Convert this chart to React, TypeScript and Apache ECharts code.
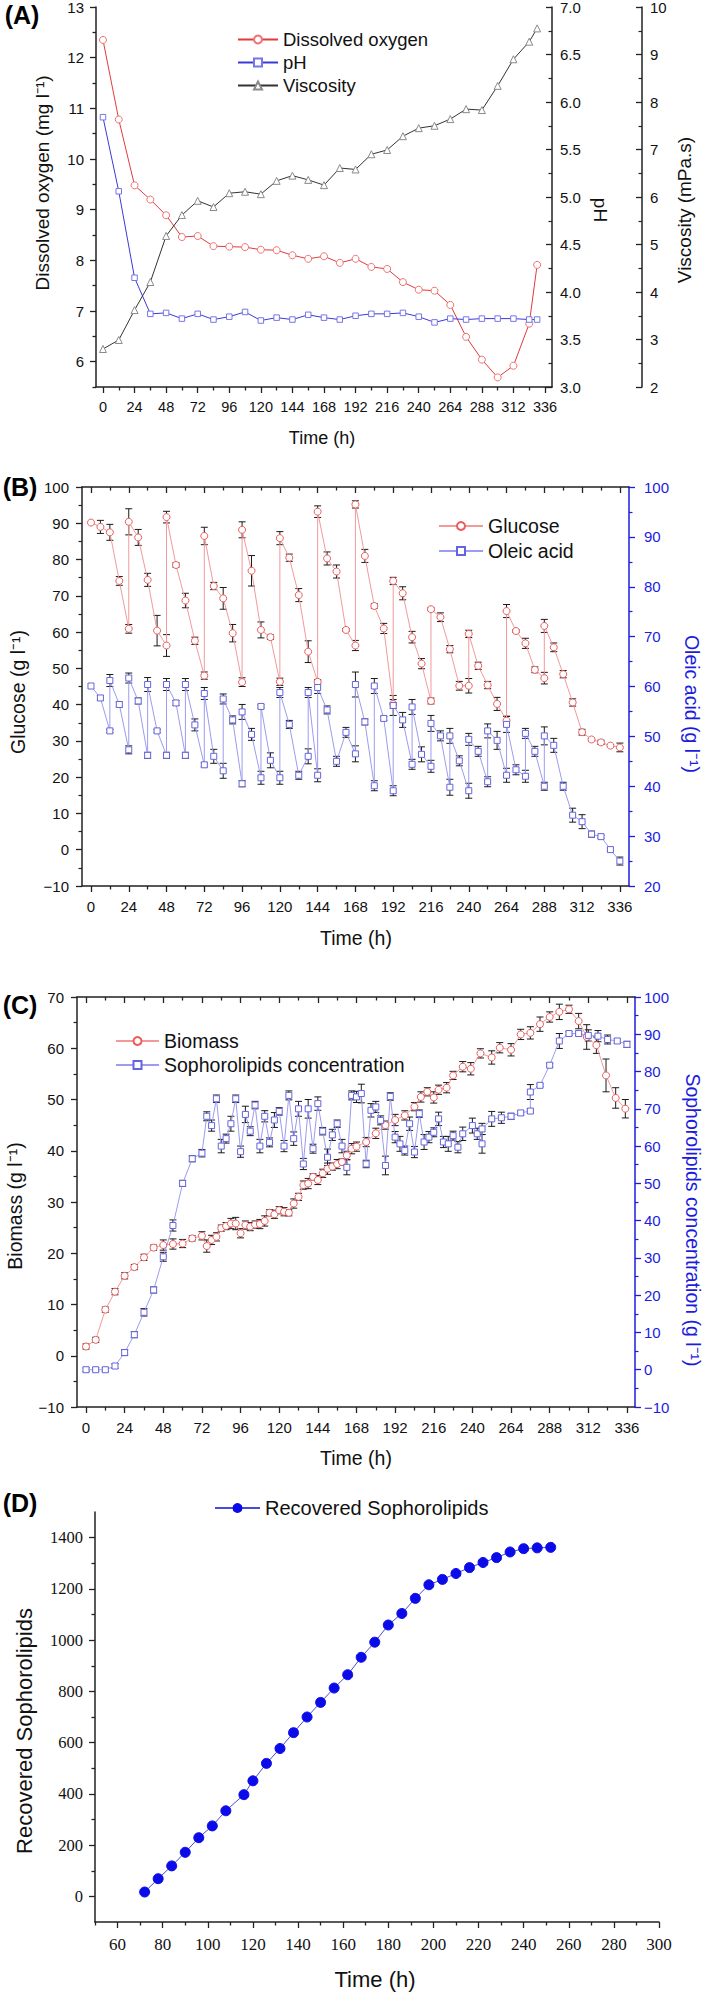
import React, { useEffect, useRef } from 'react';
import * as echarts from 'echarts';

const FONT = '"Liberation Sans", Arial, Helvetica, sans-serif';
const SERIF = '"Liberation Serif", "Times New Roman", serif';
const AXC = '#222222';
const BLUE = '#1c1ce0';

// ---------- shared tick labels (hours)
const H_TICKS = [0, 24, 48, 72, 96, 120, 144, 168, 192, 216, 240, 264, 288, 312, 336];
const H_MINOR = [12, 36, 60, 84, 108, 132, 156, 180, 204, 228, 252, 276, 300, 324];

// ---------- Panel A
const A_TIME = [0, 12, 24, 36, 48, 60, 72, 84, 96, 108, 120, 132, 144, 156, 168, 180, 192, 204, 216, 228, 240, 252, 264, 276, 288, 300, 312, 324, 330];
const A_DO = [12.35, 10.78, 9.48, 9.2, 8.89, 8.46, 8.48, 8.28, 8.27, 8.26, 8.21, 8.2, 8.1, 8.03, 8.08, 7.95, 8.03, 7.87, 7.83, 7.57, 7.42, 7.4, 7.12, 6.49, 6.04, 5.69, 5.92, 6.75, 7.91];
const A_PH = [5.84, 5.06, 4.15, 3.77, 3.78, 3.72, 3.77, 3.71, 3.74, 3.79, 3.7, 3.73, 3.71, 3.76, 3.73, 3.71, 3.75, 3.77, 3.77, 3.78, 3.74, 3.68, 3.72, 3.71, 3.72, 3.72, 3.72, 3.71, 3.71];
const A_VISC = [2.8, 2.99, 3.62, 4.21, 5.18, 5.62, 5.92, 5.79, 6.08, 6.11, 6.06, 6.34, 6.45, 6.36, 6.25, 6.61, 6.58, 6.9, 6.99, 7.28, 7.45, 7.5, 7.64, 7.85, 7.83, 8.34, 8.9, 9.27, 9.55];
const A_LEFT_TICKS = [6, 7, 8, 9, 10, 11, 12, 13];
const A_LEFT_MINOR = [5.5, 6.5, 7.5, 8.5, 9.5, 10.5, 11.5, 12.5];

// ---------- Panel B
const B_GLU_T = [0, 6, 12, 18, 24, 24, 30, 36, 42, 48, 48, 54, 60, 66, 72, 72, 78, 84, 90, 96, 96, 102, 108, 114, 120, 120, 126, 132, 138, 144, 144, 150, 156, 162, 168, 168, 174, 180, 186, 192, 192, 198, 204, 210, 216, 216, 222, 228, 234, 240, 240, 246, 252, 258, 264, 264, 270, 276, 282, 288, 288, 294, 300, 306, 312, 318, 324, 330, 336];
const B_GLU = [90.2, 89.0, 87.5, 74.1, 60.9, 90.4, 86.1, 74.4, 60.4, 56.3, 91.7, 78.5, 68.7, 57.6, 48.0, 86.5, 72.7, 69.3, 59.7, 46.2, 88.2, 76.9, 60.6, 58.6, 46.3, 85.9, 80.5, 70.2, 54.6, 46.3, 93.2, 80.3, 76.7, 60.6, 56.3, 95.2, 81.0, 67.2, 61.0, 40.2, 74.1, 70.7, 58.6, 51.3, 41.0, 66.3, 64.1, 55.3, 45.2, 45.2, 59.5, 50.7, 45.4, 40.2, 35.6, 65.8, 60.3, 56.9, 49.6, 47.3, 61.7, 55.8, 48.4, 40.6, 32.4, 30.4, 29.6, 28.7, 28.2];
const B_GLU_ERR = [0, 1.8, 2.2, 1.2, 1.2, 3.6, 2.2, 1.8, 4.2, 3.0, 1.6, 0.6, 2.0, 1.0, 1.0, 2.4, 1.0, 3.0, 2.4, 1.2, 2.2, 4.2, 2.2, 0.6, 1.0, 1.8, 1.0, 1.8, 3.0, 0.6, 1.6, 1.8, 1.8, 0.4, 1.4, 1.0, 1.8, 0.6, 1.4, 1.2, 1.0, 1.8, 1.6, 1.4, 0.8, 0.4, 1.2, 1.0, 1.2, 2.0, 1.0, 1.0, 1.0, 1.8, 1.2, 1.8, 0.4, 1.4, 0.8, 1.6, 1.8, 1.2, 1.0, 1.0, 0.8, 0.4, 0.6, 0.3, 1.2];
const B_OLE_T = [0, 6, 12, 12, 18, 24, 24, 30, 36, 36, 42, 48, 48, 54, 60, 60, 66, 72, 72, 78, 84, 84, 90, 96, 96, 102, 108, 108, 114, 120, 120, 126, 132, 138, 138, 144, 144, 150, 156, 162, 168, 168, 174, 180, 180, 186, 192, 192, 198, 204, 204, 210, 216, 216, 222, 228, 228, 234, 240, 240, 246, 252, 252, 258, 264, 264, 270, 276, 276, 282, 288, 288, 294, 300, 306, 312, 318, 324, 330, 336];
const B_OLE = [60.1, 57.7, 51.1, 61.2, 56.4, 47.3, 61.7, 57.1, 46.2, 60.4, 51.1, 46.2, 60.4, 56.7, 46.2, 60.4, 52.3, 44.3, 58.6, 46.0, 43.1, 57.5, 53.3, 40.5, 54.9, 50.4, 41.7, 56.0, 45.2, 41.7, 58.8, 52.4, 42.2, 46.0, 58.8, 42.2, 59.8, 55.3, 45.0, 50.8, 46.5, 60.4, 52.9, 40.1, 60.1, 53.6, 39.1, 56.2, 53.3, 44.4, 55.9, 46.4, 44.0, 52.6, 50.1, 39.8, 50.1, 45.1, 39.1, 49.4, 47.0, 40.9, 51.1, 49.2, 42.2, 52.4, 43.3, 42.0, 50.6, 47.0, 40.0, 50.1, 48.2, 40.0, 34.2, 32.9, 30.4, 29.9, 27.3, 25.0];
const B_OLE_ERR = [0, 0.5, 0.3, 1.2, 0.5, 0.8, 1.0, 0.6, 0.6, 1.4, 0.3, 0.6, 1.2, 0.5, 0.6, 1.2, 1.2, 0.4, 1.2, 1.4, 1.5, 1.0, 0.8, 0.6, 1.5, 1.2, 1.3, 0.3, 1.5, 1.3, 1.0, 0.8, 0.8, 1.5, 1.0, 1.3, 1.2, 0.8, 1.0, 1.0, 1.6, 2.5, 0.6, 1.0, 1.5, 0.4, 1.0, 2.0, 1.5, 1.0, 1.5, 1.5, 1.2, 1.6, 1.0, 1.6, 1.5, 1.0, 1.5, 1.2, 1.0, 1.0, 1.4, 1.8, 1.4, 1.6, 1.0, 1.2, 1.0, 1.0, 0.8, 1.8, 1.4, 0.8, 1.4, 1.4, 0.6, 0.3, 0.3, 0.8];

// ---------- Panel C
const C_BIO_T = [0, 6, 12, 18, 24, 30, 36, 42, 48, 54, 60, 66, 72, 75, 78, 81, 84, 87, 90, 93, 96, 99, 102, 105, 108, 111, 114, 117, 120, 123, 126, 129, 132, 135, 138, 141, 144, 147, 150, 153, 156, 159, 162, 165, 168, 174, 180, 186, 192, 198, 204, 208, 212, 216, 219, 224, 228, 234, 239, 245, 252, 257, 264, 270, 276, 282, 288, 294, 300, 306, 311, 317, 323, 329, 335];
const C_BIO = [1.8, 3.1, 9.0, 12.5, 15.6, 17.3, 19.2, 21.1, 21.6, 21.8, 21.9, 22.9, 23.4, 21.4, 22.6, 23.2, 24.9, 25.3, 25.8, 25.8, 23.9, 25.5, 25.2, 25.6, 25.7, 26.3, 27.9, 27.6, 28.4, 28.1, 27.9, 29.7, 31.0, 33.3, 33.6, 34.9, 34.3, 35.6, 36.5, 36.9, 37.4, 37.8, 39.1, 40.4, 40.8, 41.7, 43.4, 45.0, 46.0, 46.9, 48.6, 50.5, 51.5, 50.4, 51.9, 52.3, 54.7, 56.4, 56.0, 59.0, 58.2, 60.1, 59.7, 62.7, 63.0, 64.7, 66.1, 67.1, 67.6, 65.3, 62.2, 60.6, 54.7, 50.3, 48.2];
const C_BIO_ERR = [0.5, 0.5, 0.5, 0.6, 0.6, 0.5, 0.6, 0.5, 1.0, 1.0, 0.8, 0.5, 0.8, 1.2, 0.9, 0.8, 0.6, 0.7, 1.0, 1.2, 0.9, 0.8, 0.8, 0.7, 0.9, 1.0, 0.6, 0.8, 0.7, 0.8, 0.6, 0.9, 0.7, 0.8, 1.0, 0.6, 0.9, 0.8, 1.1, 0.7, 0.9, 0.6, 0.8, 1.0, 0.9, 0.9, 1.0, 0.8, 1.1, 0.9, 0.8, 1.0, 0.8, 1.1, 0.9, 1.0, 0.8, 1.0, 1.2, 0.9, 1.3, 1.0, 1.2, 1.0, 1.2, 1.4, 1.0, 1.5, 0.8, 1.5, 2.4, 1.6, 3.2, 2.0, 1.8];
const C_SL_T = [0, 6, 12, 18, 24, 30, 36, 42, 48, 54, 60, 66, 72, 75, 78, 81, 84, 87, 90, 93, 96, 99, 102, 105, 108, 111, 114, 117, 120, 123, 126, 129, 132, 135, 138, 141, 144, 147, 150, 153, 156, 159, 162, 165, 168, 171, 174, 177, 180, 183, 186, 189, 192, 195, 198, 201, 204, 207, 210, 213, 216, 219, 222, 225, 228, 231, 234, 240, 243, 246, 246, 252, 258, 264, 270, 276, 276, 282, 288, 294, 300, 306, 312, 318, 324, 330, 336];
const C_SL = [0, 0, 0, 1.0, 4.6, 9.4, 15.4, 21.4, 30.3, 38.7, 50.0, 56.6, 58.1, 68.0, 65.5, 72.7, 60.0, 62.0, 66.0, 72.7, 58.5, 68.5, 64.0, 71.0, 60.0, 68.0, 61.0, 67.0, 69.3, 60.0, 73.6, 62.0, 70.0, 55.2, 70.0, 59.3, 71.4, 64.0, 57.0, 63.0, 66.0, 60.0, 54.3, 73.6, 73.2, 74.1, 55.2, 69.6, 70.5, 66.9, 54.8, 73.3, 62.4, 60.6, 58.8, 66.0, 58.4, 68.7, 61.1, 62.4, 63.7, 67.3, 61.1, 60.6, 62.8, 59.7, 63.3, 65.5, 63.3, 60.6, 64.6, 67.3, 67.6, 68.0, 68.9, 69.4, 74.5, 76.3, 81.7, 88.2, 90.2, 90.2, 89.7, 89.5, 88.6, 88.2, 87.3];
const C_SL_ERR = [0.5, 0.5, 0.5, 0.6, 0.8, 0.8, 1.0, 0.8, 1.2, 1.5, 0.8, 0.8, 1.0, 1.2, 1.5, 1.0, 1.8, 1.2, 2.0, 1.0, 1.5, 2.2, 1.2, 1.0, 1.8, 1.5, 1.2, 2.0, 1.0, 1.5, 1.2, 1.8, 2.0, 1.5, 2.5, 1.2, 1.8, 1.0, 2.2, 1.5, 1.0, 1.8, 2.0, 1.2, 1.5, 2.5, 1.0, 1.8, 1.5, 1.2, 2.5, 1.0, 1.5, 2.0, 1.2, 1.8, 1.5, 1.0, 2.0, 1.5, 1.2, 1.8, 1.5, 2.0, 1.2, 1.5, 1.8, 2.0, 1.5, 2.5, 1.5, 2.0, 1.5, 0.8, 0.6, 0.6, 2.0, 0.4, 0.5, 2.0, 0.5, 0.6, 1.5, 1.5, 1.2, 0.6, 0.8];

// ---------- Panel D
const D_T = [72, 78, 84, 90, 96, 102, 108, 116, 120, 126, 132, 138, 144, 150, 156, 162, 168, 174, 180, 186, 192, 198, 204, 210, 216, 222, 228, 234, 240, 246, 252];
const D_SL = [17, 69, 119, 172, 229, 275, 334, 397, 451, 519, 577, 639, 700, 757, 813, 865, 933, 992, 1059, 1104, 1163, 1216, 1237, 1260, 1283, 1303, 1322, 1344, 1357, 1360, 1362];
const D_X_TICKS = [60, 80, 100, 120, 140, 160, 180, 200, 220, 240, 260, 280, 300];
const D_X_MINOR = [50, 70, 90, 110, 130, 150, 170, 190, 210, 230, 250, 270, 290];
const D_Y_TICKS = [0, 200, 400, 600, 800, 1000, 1200, 1400];
const D_Y_MINOR = [100, 300, 500, 700, 900, 1100, 1300];

const fmtNeg = (v: number) => (v < 0 ? '\u2212' + Math.abs(v) : String(v));
const fmtPlain = (v: number) => String(v);

function mkAxis(o: any) {
  const color = o.color || AXC;
  const ax: any = {
    type: 'value',
    gridIndex: o.grid,
    min: o.min,
    max: o.max,
    position: o.pos,
    offset: o.offset || 0,
    axisLine: { show: o.line !== false, onZero: false, lineStyle: { color, width: 1.5 } },
    axisTick: { show: true, inside: !!o.inside, length: o.len || 6, lineStyle: { color, width: 1.3 } },
    axisLabel: {
      show: !!o.labels,
      margin: o.margin ?? 10,
      fontSize: o.fs || 15,
      color: o.labelColor || (o.color ? o.color : '#111'),
      fontFamily: o.ff || FONT,
      formatter: o.fmt || fmtPlain,
    },
    splitLine: { show: false },
  };
  if (o.ticks) {
    ax.axisTick.customValues = o.ticks;
    ax.axisLabel.customValues = o.ticks;
  }
  if (o.interval) ax.interval = o.interval;
  if (o.minor) ax.minorTick = { show: true, splitNumber: 2, length: 3.5, lineStyle: { color, width: 1.2 } };
  return ax;
}

function lineS(name: string, xi: number, yi: number, T: number[], V: number[], lineColor: string, symbol: string, symColor: string, size: number, fill = '#ffffff') {
  return {
    name,
    type: 'line',
    xAxisIndex: xi,
    yAxisIndex: yi,
    data: T.map((t, i) => [t, V[i]]),
    symbol,
    symbolSize: size,
    showAllSymbol: true,
    lineStyle: { color: lineColor, width: 1 },
    itemStyle: { color: fill, borderColor: symColor, borderWidth: 1 },
    emphasis: { disabled: true },
    z: 4,
  };
}

function errS(xi: number, yi: number, T: number[], V: number[], E: number[]) {
  const data: number[][] = [];
  T.forEach((t, i) => {
    if (E[i] > 0) data.push([t, V[i] - E[i], V[i] + E[i]]);
  });
  return {
    type: 'custom',
    xAxisIndex: xi,
    yAxisIndex: yi,
    data,
    silent: true,
    z: 3,
    encode: { x: 0, y: [1, 2] },
    renderItem: (_p: any, api: any) => {
      const x = api.value(0);
      const lo = api.coord([x, api.value(1)]);
      const hi = api.coord([x, api.value(2)]);
      const w = 3.5;
      const st = { stroke: '#1a1a1a', lineWidth: 1 };
      return {
        type: 'group',
        children: [
          { type: 'line', shape: { x1: lo[0], y1: lo[1], x2: hi[0], y2: hi[1] }, style: st },
          { type: 'line', shape: { x1: lo[0] - w, y1: lo[1], x2: lo[0] + w, y2: lo[1] }, style: st },
          { type: 'line', shape: { x1: hi[0] - w, y1: hi[1], x2: hi[0] + w, y2: hi[1] }, style: st },
        ],
      };
    },
  };
}

function txt(text: string, x: number, y: number, size: number, rot = 0, fill = '#111', ff = FONT, weight = 'normal') {
  return {
    type: 'text',
    x,
    y,
    rotation: rot,
    silent: true,
    style: {
      text,
      fontSize: size,
      fontFamily: ff,
      fontWeight: weight,
      fill,
      align: 'center',
      verticalAlign: 'middle',
      textAlign: 'center',
      textVerticalAlign: 'middle',
    },
  };
}

export default function App() {
  const ref = useRef<HTMLDivElement>(null);
  useEffect(() => {
    document.body.style.margin = '0';
    if (!ref.current) return;
    const chart = echarts.init(ref.current, undefined, { renderer: 'svg' });
    const R90 = Math.PI / 2;

    const grids = [
      { left: 96, top: 7, width: 456, height: 380 },
      { left: 82, top: 487, width: 547, height: 399 },
      { left: 77, top: 997, width: 558, height: 410 },
      { left: 95, top: 1512, width: 564, height: 410 },
    ].map((g) => ({ ...g, containLabel: false, outerBoundsMode: 'none', show: false }));

    const xAxis = [
      // A (0,1)
      mkAxis({ grid: 0, min: -5.3, max: 341.3, pos: 'bottom', ticks: H_TICKS, labels: true, margin: 12, fs: 14.5 }),
      mkAxis({ grid: 0, min: -5.3, max: 341.3, pos: 'bottom', ticks: H_MINOR, len: 3.5, line: false }),
      // B (2..5)
      mkAxis({ grid: 1, min: -5.7, max: 341.8, pos: 'bottom', ticks: H_TICKS, labels: true, margin: 13 }),
      mkAxis({ grid: 1, min: -5.7, max: 341.8, pos: 'bottom', ticks: H_MINOR, len: 3.5, line: false }),
      mkAxis({ grid: 1, min: -5.7, max: 341.8, pos: 'top', ticks: H_TICKS, inside: true }),
      mkAxis({ grid: 1, min: -5.7, max: 341.8, pos: 'top', ticks: H_MINOR, inside: true, len: 3.5, line: false }),
      // C (6..9)
      mkAxis({ grid: 2, min: -5.6, max: 341, pos: 'bottom', ticks: H_TICKS, labels: true, margin: 13 }),
      mkAxis({ grid: 2, min: -5.6, max: 341, pos: 'bottom', ticks: H_MINOR, len: 3.5, line: false }),
      mkAxis({ grid: 2, min: -5.6, max: 341, pos: 'top', ticks: H_TICKS, inside: true }),
      mkAxis({ grid: 2, min: -5.6, max: 341, pos: 'top', ticks: H_MINOR, inside: true, len: 3.5, line: false }),
      // D (10,11)
      mkAxis({ grid: 3, min: 50, max: 300, pos: 'bottom', ticks: D_X_TICKS, labels: true, margin: 14, fs: 17, ff: SERIF }),
      mkAxis({ grid: 3, min: 50, max: 300, pos: 'bottom', ticks: D_X_MINOR, len: 3.5, line: false }),
    ];

    const yAxis = [
      // A (0..3)
      mkAxis({ grid: 0, min: 5.5, max: 13, pos: 'left', ticks: A_LEFT_TICKS, labels: true, margin: 12 }),
      mkAxis({ grid: 0, min: 5.5, max: 13, pos: 'left', ticks: A_LEFT_MINOR, len: 3.5, line: false }),
      mkAxis({ grid: 0, min: 3, max: 7, interval: 0.5, minor: true, pos: 'right', inside: true, labels: true, margin: 8, fmt: (v: number) => v.toFixed(1) }),
      mkAxis({ grid: 0, min: 2, max: 10, interval: 1, minor: true, pos: 'right', offset: 90, inside: true, labels: true, margin: 8 }),
      // B (4,5)
      mkAxis({ grid: 1, min: -10, max: 100, interval: 10, minor: true, pos: 'left', labels: true, margin: 13, fmt: fmtNeg }),
      mkAxis({ grid: 1, min: 20, max: 100, interval: 10, minor: true, pos: 'right', labels: true, margin: 15, color: BLUE }),
      // C (6,7)
      mkAxis({ grid: 2, min: -10, max: 70, interval: 10, minor: true, pos: 'left', labels: true, margin: 13, fmt: fmtNeg }),
      mkAxis({ grid: 2, min: -10, max: 100, interval: 10, minor: true, pos: 'right', labels: true, margin: 9, color: BLUE, fmt: fmtNeg }),
      // D (8,9)
      mkAxis({ grid: 3, min: -100, max: 1500, pos: 'left', ticks: D_Y_TICKS, labels: true, margin: 12, fs: 16.5, ff: SERIF }),
      mkAxis({ grid: 3, min: -100, max: 1500, pos: 'left', ticks: D_Y_MINOR, len: 3.5, line: false }),
    ];

    const series: any[] = [
      // A
      lineS('Dissolved oxygen', 0, 0, A_TIME, A_DO, '#e23a3a', 'circle', '#f07272', 7),
      lineS('pH', 0, 2, A_TIME, A_PH, '#3a3ad8', 'rect', '#7676e8', 5.5),
      lineS('Viscosity', 0, 3, A_TIME, A_VISC, '#333333', 'triangle', '#8a8a8a', 7),
      // B
      errS(2, 4, B_GLU_T, B_GLU, B_GLU_ERR),
      errS(2, 5, B_OLE_T, B_OLE, B_OLE_ERR),
      lineS('Glucose', 2, 4, B_GLU_T, B_GLU, '#f29a9a', 'circle', '#ec5c5c', 7),
      lineS('Oleic acid', 2, 5, B_OLE_T, B_OLE, '#9c9cf0', 'rect', '#6464e0', 6),
      // C
      errS(6, 6, C_BIO_T, C_BIO, C_BIO_ERR),
      errS(6, 7, C_SL_T, C_SL, C_SL_ERR),
      lineS('Biomass', 6, 6, C_BIO_T, C_BIO, '#f29a9a', 'circle', '#ec5c5c', 7),
      lineS('Sophorolipids concentration', 6, 7, C_SL_T, C_SL, '#9c9cf0', 'rect', '#6464e0', 6),
      // D
      lineS('Recovered Sophorolipids', 10, 8, D_T, D_SL, '#4a4ad8', 'circle', '#0b0bea', 10, '#0b0bea'),
    ];

    const legBase = {
      orient: 'vertical',
      padding: 0,
      itemGap: 4,
      itemHeight: 10,
      selectedMode: false,
      textStyle: { fontFamily: FONT, color: '#111', fontSize: 18.5, lineHeight: 19 },
    };

    const option: any = {
      animation: false,
      backgroundColor: '#ffffff',
      grid: grids,
      xAxis,
      yAxis,
      series,
      legend: [
        { ...legBase, data: ['Dissolved oxygen', 'pH', 'Viscosity'], left: 237, top: 30, itemWidth: 40 },
        { ...legBase, data: ['Glucose', 'Oleic acid'], left: 438, top: 516, itemWidth: 44, itemGap: 5, textStyle: { ...legBase.textStyle, fontSize: 19.5, lineHeight: 19 } },
        { ...legBase, data: ['Biomass', 'Sophorolipids concentration'], left: 115, top: 1031, itemWidth: 43, textStyle: { ...legBase.textStyle, fontSize: 19.5, lineHeight: 19 } },
        { ...legBase, data: ['Recovered Sophorolipids'], left: 214, top: 1498, itemWidth: 45, textStyle: { ...legBase.textStyle, fontSize: 20, lineHeight: 20 } },
      ],
      graphic: [
        txt('(A)', 22, 15, 25, 0, '#000', FONT, 'bold'),
        txt('(B)', 20, 487, 25, 0, '#000', FONT, 'bold'),
        txt('(C)', 20, 1005, 25, 0, '#000', FONT, 'bold'),
        txt('(D)', 20, 1503, 25, 0, '#000', FONT, 'bold'),
        // panel A names
        txt('Dissolved oxygen (mg l\u207B\u00B9)', 42, 183, 19, R90),
        txt('pH', 600, 210, 19, -R90),
        txt('Viscosity (mPa.s)', 684, 210, 19, R90),
        txt('Time (h)', 322, 438, 18),
        // panel B names
        txt('Glucose (g l\u207B\u00B9)', 18, 692, 19.5, R90),
        txt('Oleic acid (g l\u207B\u00B9)', 692, 704, 19.5, -R90, BLUE),
        txt('Time (h)', 356, 938, 19.5),
        // panel C names
        txt('Biomass (g l\u207B\u00B9)', 15, 1206, 19.5, R90),
        txt('Sophorolipids concentration (g l\u207B\u00B9)', 693, 1220, 19.5, -R90, BLUE),
        txt('Time (h)', 356, 1458, 19.5),
        // panel D names
        txt('Recovered Sophorolipids', 24, 1731, 22, R90),
        txt('Time (h)', 375, 1979, 22),
      ],
    };
    chart.setOption(option);
    return () => chart.dispose();
  }, []);
  return <div ref={ref} style={{ width: 709, height: 1992 }} />;
}
